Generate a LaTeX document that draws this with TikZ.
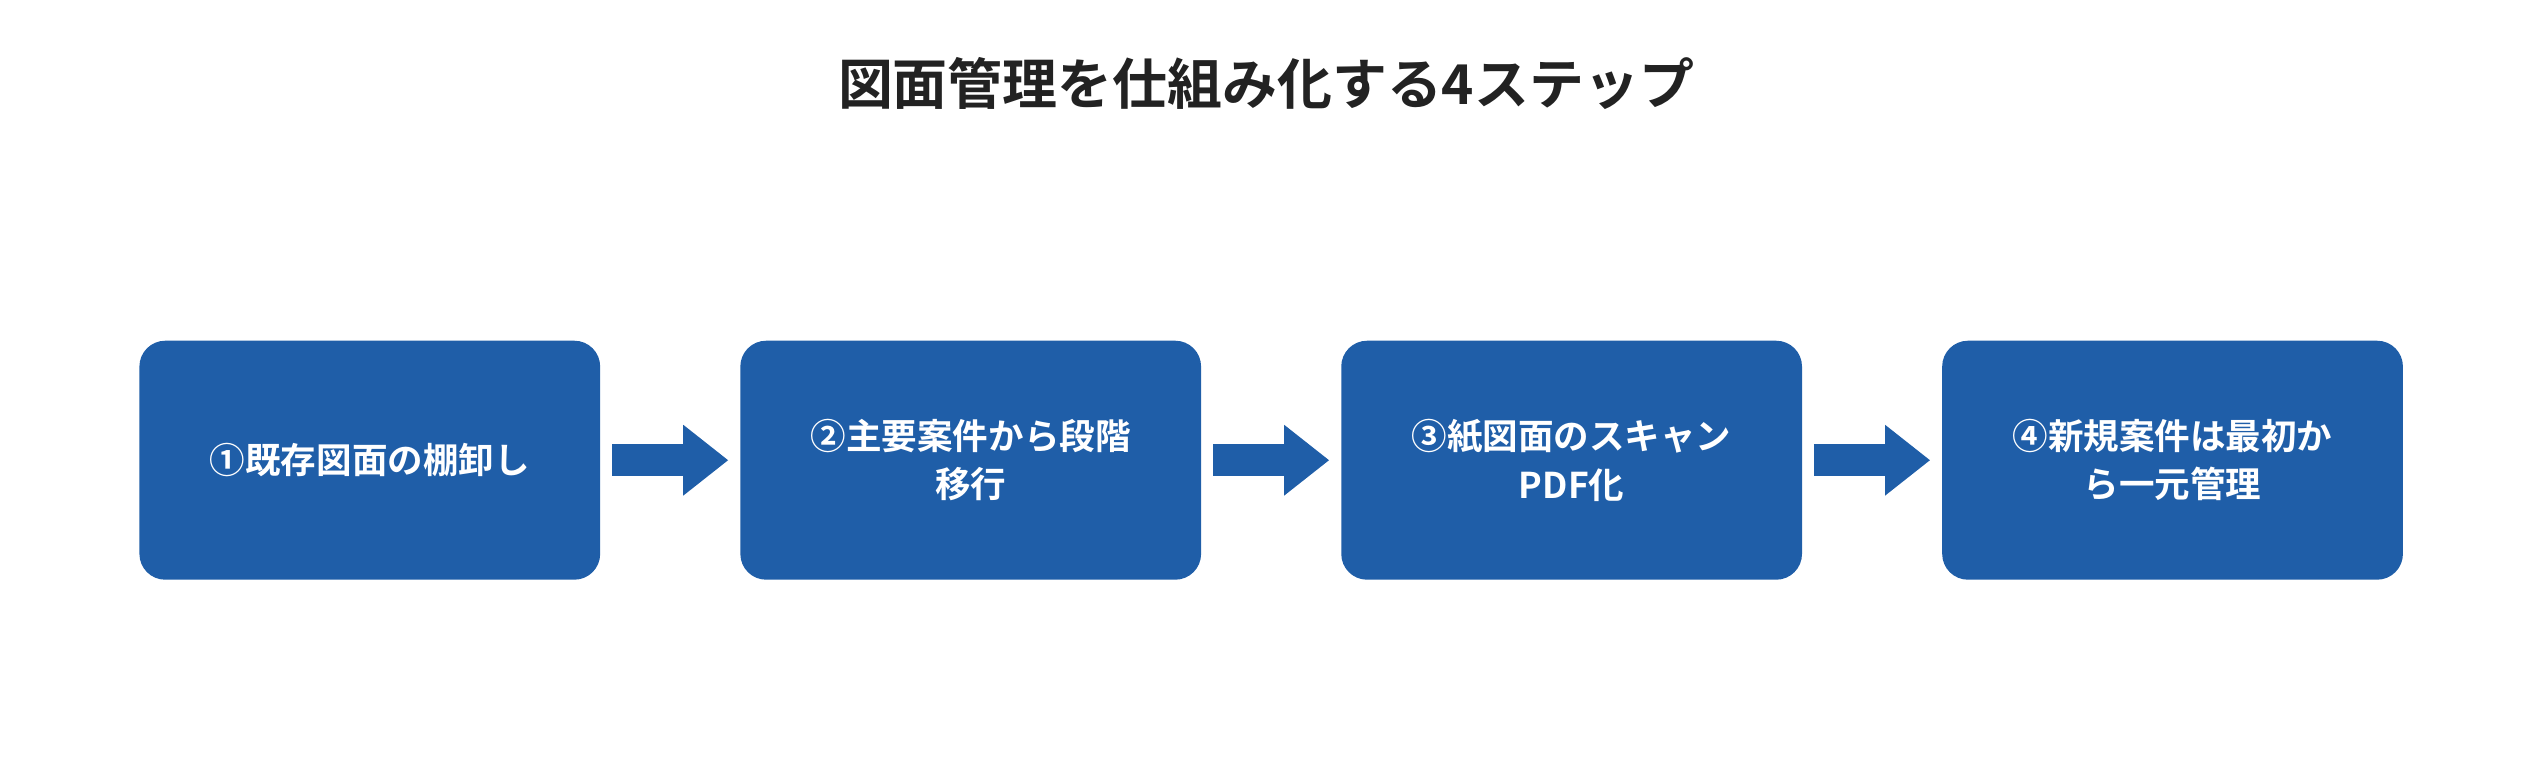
\documentclass[tikz,border=0pt]{standalone}
\usepackage{fontspec}
\setmainfont{Noto Sans CJK JP}[BoldFont={* Bold}]
\usetikzlibrary{positioning, arrows.meta}
\definecolor{stepblue}{RGB}{31,94,168}
\definecolor{titlegray}{RGB}{34,34,34}
\tikzset{
  stepbox/.style={fill=stepblue, rounded corners=8pt, minimum width=142pt, minimum height=74pt,
    text width=136pt, align=center, text=white, font=\fontsize{11}{15}\selectfont\bfseries},
  flow/.style={stepblue, line width=10pt, -{Triangle[length=14pt, width=21pt]}, shorten <=3.5pt, shorten >=3.5pt}
}
\begin{document}
\begin{tikzpicture}[x=0.5pt, y=-0.5pt]
  \useasboundingbox (0,0) rectangle (1568,470);
  \node[text=titlegray, font=\fontsize{17}{20}\selectfont\bfseries] (title) at (784,52) {図面管理を仕組み化する4ステップ};

  % steps
  \node[stepbox] (s1) at (229,285) {①既存図面の棚卸し};
  \node[stepbox, right=43pt of s1] (s2) {②主要案件から段階\\移行};
  \node[stepbox, right=43pt of s2] (s3) {③紙図面のスキャン\\PDF化};
  \node[stepbox, right=43pt of s3] (s4) {④新規案件は最初か\\ら一元管理};

  \foreach \a/\b in {s1/s2, s2/s3, s3/s4}{
    \draw[flow] (\a) -- (\b);
  }
\end{tikzpicture}
\end{document}
